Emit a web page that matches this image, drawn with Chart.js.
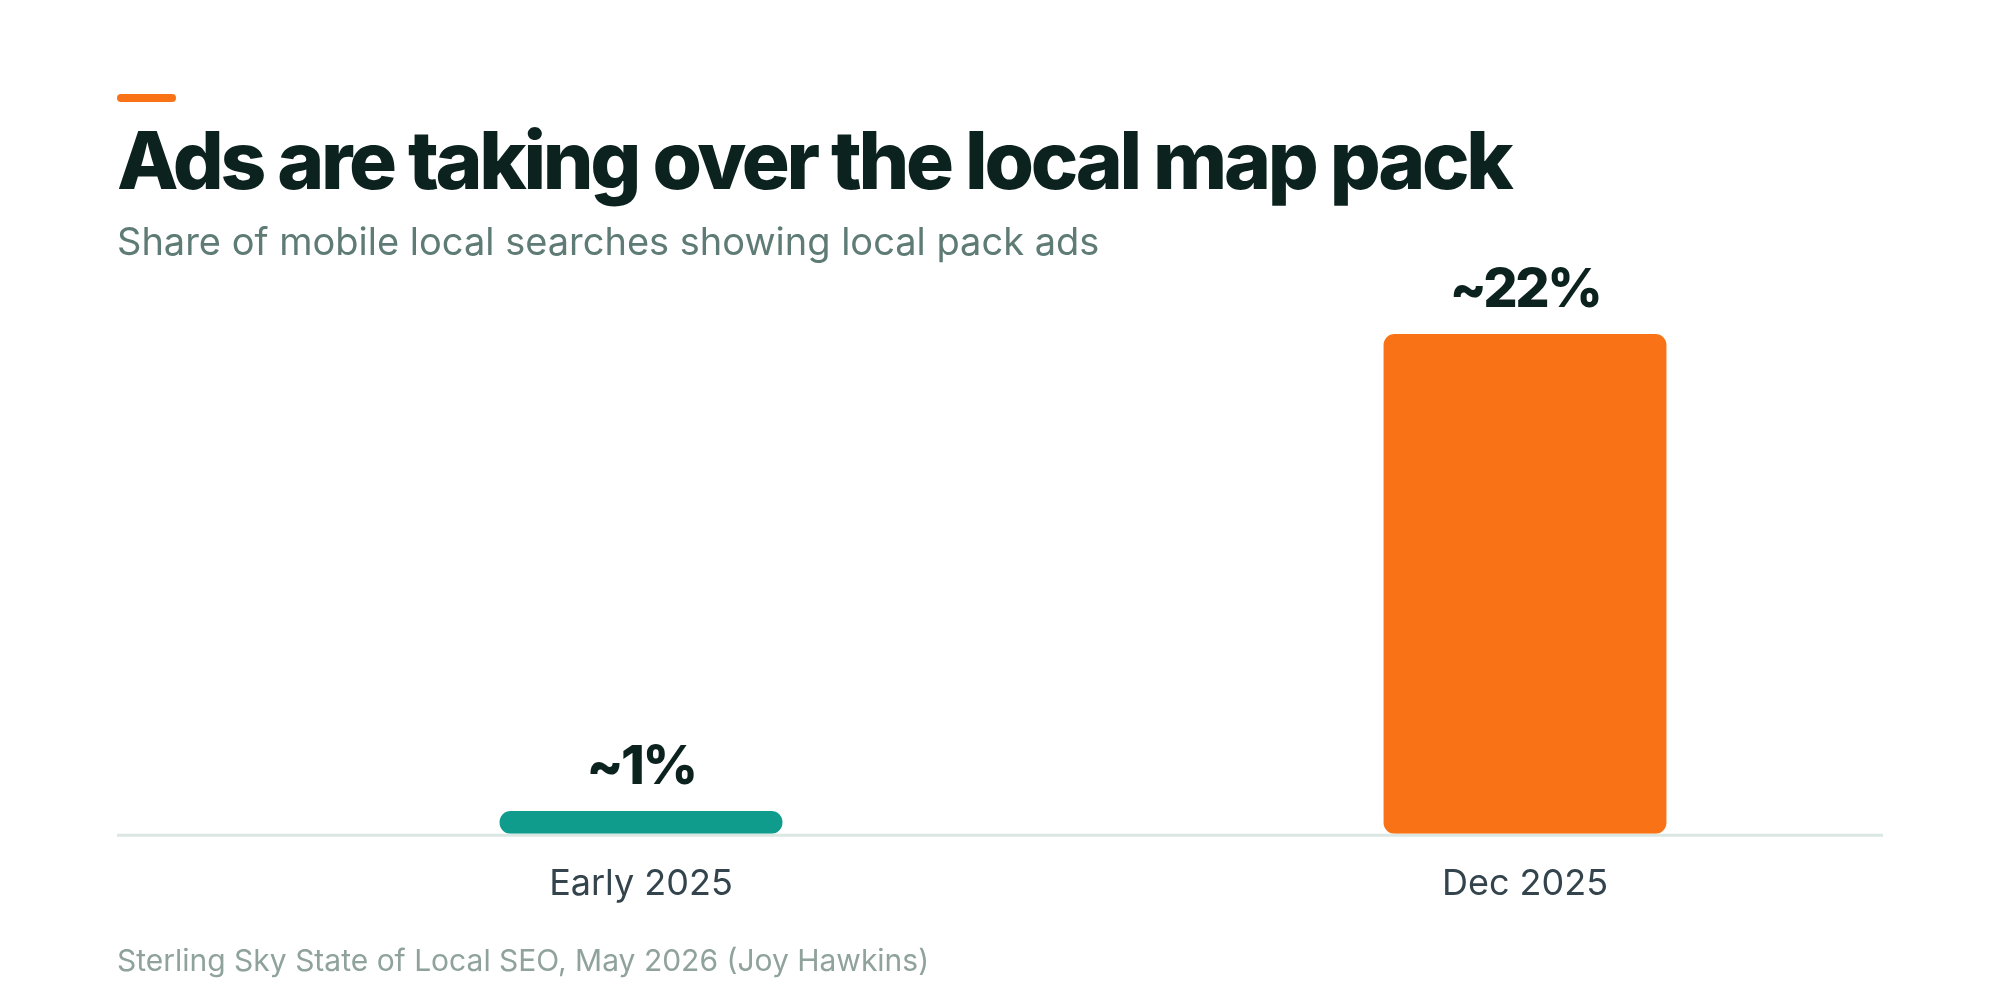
<!DOCTYPE html>
<html>
<head>
<meta charset="utf-8">
<script src="https://cdn.jsdelivr.net/npm/chart.js@4"></script>
<style>
  html, body { margin: 0; padding: 0; background: #fff; }
  body { width: 2000px; height: 1000px; position: relative; overflow: hidden; font-family: Inter, "Noto Sans", sans-serif; }
  .accent { position: absolute; left: 117px; top: 94px; width: 59px; height: 8px; border-radius: 4px; background: #f97316; }
  h1 { position: absolute; left: 117px; top: 120px; margin: 0; font-size: 80px; line-height: 1; font-weight: 800; letter-spacing: -3.3px; color: #0b221e; white-space: nowrap; }
  .sub { position: absolute; left: 117px; top: 222px; margin: 0; font-size: 38px; line-height: 1; color: #5f7b75; white-space: nowrap; }
  .src { position: absolute; left: 117px; top: 945px; margin: 0; font-size: 30px; line-height: 1; color: #8fa29c; white-space: nowrap; }
  .wrap { position: absolute; left: 0; top: 0; width: 2000px; height: 1000px; }
</style>
</head>
<body>
<div class="wrap"><canvas id="myChart"></canvas></div>
<div class="accent"></div>
<h1>Ads are taking over the local map pack</h1>
<p class="sub">Share of mobile local searches showing local pack ads</p>
<p class="src">Sterling Sky State of Local SEO, May 2026 (Joy Hawkins)</p>
<script>
const periods = ['Early 2025', 'Dec 2025']
const adShare = [1, 22]
const shareLabels = ['~1%', '~22%']
const barColors = ['#109c8c', '#f97316']

// baseline under the bars, runs a bit wider than the plot
const baseline = {
    id: 'baseline',
    beforeDatasetsDraw(chart) {
        const ctx = chart.ctx
        const y = chart.scales.y.getPixelForValue(0)
        ctx.save()
        ctx.strokeStyle = '#dbe7e3'
        ctx.lineWidth = 3
        ctx.beginPath()
        ctx.moveTo(117, y + 1.5)
        ctx.lineTo(1883, y + 1.5)
        ctx.stroke()
        ctx.restore()
    }
}

const valueLabels = {
    id: 'valueLabels',
    afterDatasetsDraw(chart) {
        const ctx = chart.ctx
        const meta = chart.getDatasetMeta(0)
        ctx.save()
        ctx.font = '800 54px Inter'
        ctx.letterSpacing = '-2.5px'
        ctx.fillStyle = '#0b221e'
        ctx.textAlign = 'center'
        ctx.textBaseline = 'middle'
        meta.data.forEach((bar, i) => {
            ctx.fillText(shareLabels[i], bar.x, bar.y - 43)
        })
        ctx.restore()
    }
}

const ctx = document.getElementById('myChart').getContext('2d')
const myChart = new Chart(ctx, {
    type: 'bar',
    data: {
        labels: periods,
        datasets: [{
            data: adShare,
            backgroundColor: barColors,
            borderRadius: 11,
            borderSkipped: false,
            categoryPercentage: 1,
            barPercentage: 0.32
        }]
    },
    options: {
        responsive: true,
        maintainAspectRatio: false,
        animation: false,
        layout: { padding: { top: 334, left: 199, right: 33, bottom: 65 } },
        plugins: { legend: { display: false }, tooltip: { enabled: false } },
        scales: {
            x: {
                grid: { display: false, drawTicks: false },
                border: { display: false },
                ticks: { color: '#34444d', font: { family: 'Inter', size: 36 }, padding: 29 }
            },
            y: {
                display: false,
                min: 0,
                max: 22
            }
        }
    },
    plugins: [baseline, valueLabels]
})
</script>
</body>
</html>
